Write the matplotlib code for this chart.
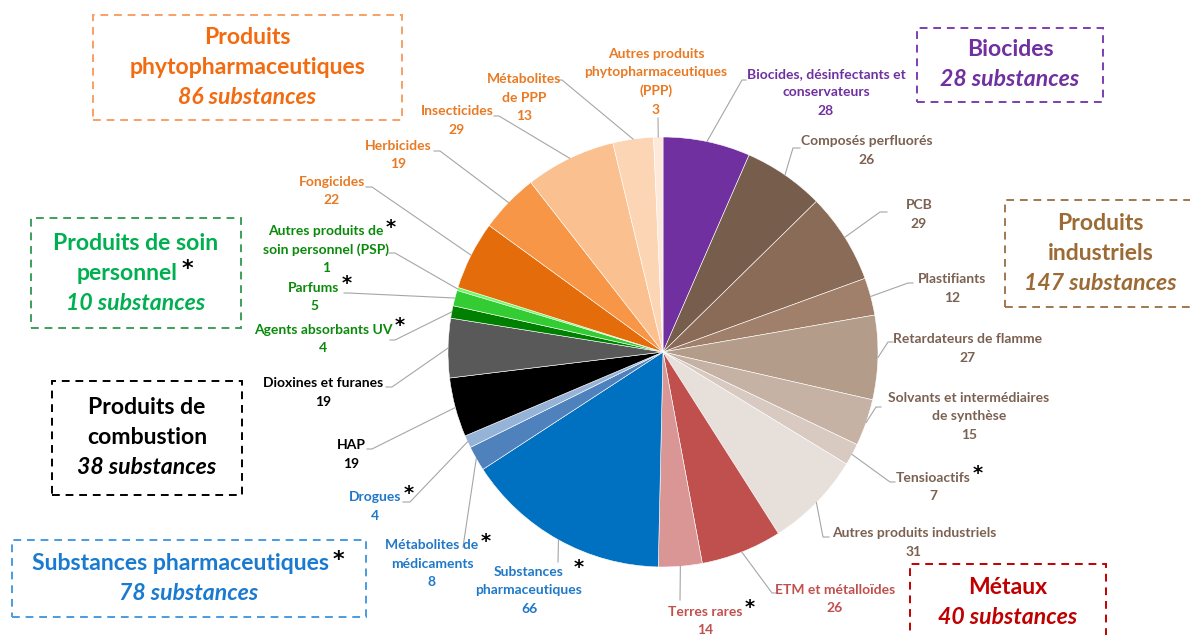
import matplotlib.pyplot as plt
import numpy as np

# figure in pixel units
W, H = 1190, 635
plt.rcParams['font.family'] = ['Lato', 'DejaVu Sans']

slice_names = ["Biocides, désinfectants et\nconservateurs", "Composés perfluorés", "PCB", "Plastifiants",
               "Retardateurs de flamme", "Solvants et intermédiaires\nde synthèse", "Tensioactifs",
               "Autres produits industriels", "ETM et métalloïdes", "Terres rares",
               "Substances\npharmaceutiques", "Métabolites de\nmédicaments", "Drogues", "HAP",
               "Dioxines et furanes", "Agents absorbants UV", "Parfums",
               "Autres produits de\nsoin personnel (PSP)", "Fongicides", "Herbicides", "Insecticides",
               "Métabolites\nde PPP", "Autres produits\nphytopharmaceutiques\n(PPP)"]
slice_values = [28, 26, 29, 12, 27, 15, 7, 31, 26, 14, 66, 8, 4, 19, 19, 4, 5, 1, 22, 19, 29, 13, 3]
slice_colors = ["#7030A0", "#765D4C", "#8A6B58", "#A0806B", "#B49C8A", "#C5B2A4", "#D8CAC0", "#E6DFDA",
                "#C0504D", "#D99694", "#0070C0", "#4F81BD", "#95B3D7", "#000000", "#595959",
                "#008000", "#33CC33", "#66FF66", "#E46C0A", "#F79646", "#FAC090", "#FCD5B5", "#FDE9D9"]
slice_group = ["bio", "ind", "ind", "ind", "ind", "ind", "ind", "ind", "met", "met",
               "pha", "pha", "pha", "com", "com", "psp", "psp", "psp", "ppp", "ppp", "ppp", "ppp", "ppp"]
starred = ["Tensioactifs", "Terres rares", "Substances\npharmaceutiques", "Métabolites de\nmédicaments",
           "Drogues", "Agents absorbants UV", "Parfums", "Autres produits de\nsoin personnel (PSP)"]

group_label_color = {"bio": "#7030A0", "ind": "#7B6151", "met": "#C0504D", "pha": "#1F78C8",
                     "com": "#000000", "psp": "#0A8A0A", "ppp": "#E97A23"}

# group boxes: title lines, total
box_titles = [["Produits", "phytopharmaceutiques"], ["Biocides"], ["Produits", "industriels"],
              ["Produits de soin", "personnel"], ["Produits de", "combustion"],
              ["Substances pharmaceutiques"], ["Métaux"]]
box_totals = [86, 28, 147, 10, 38, 78, 40]
box_colors = ["#F26B10", "#7030A0", "#9C6B35", "#00B050", "#000000", "#1A7AD0", "#C00000"]
box_edge = ["#F7A064", "#7A3FB0", "#A07850", "#3C9F5A", "#000000", "#4A9BE0", "#C00000"]
box_star = [False, False, False, True, False, True, False]
# layout (pixels from top-left): x0, y0, x1, y1
box_rect = [(93, 15, 402, 120), (917, 28, 1103, 102), (1005, 200, 1196, 307), (31, 218, 241, 328),
            (52, 381, 242, 495), (12, 540, 366, 617), (910, 564, 1106, 640)]

# label layout: x centre, y of first line, elbow point, end of leader
label_pos = [(826, 74), (867, 141), (919, 205), (952, 279), (968, 339), (969, 398), (933, 478),
             (914, 533), (835, 590), (705, 612), (529, 572), (432, 545), (375, 497), (351, 445),
             (323, 383), (323, 330), (314, 288), (326, 231), (332, 182), (398, 146), (457, 111),
             (524, 79), (656, 54)]
leader = [((742, 80), (746, 80)), ((793, 148), (800, 148)), ((880, 212), (887, 212)),
          ((908, 283), (913, 283)), ((888, 342), (893, 342)), ((876, 407), (881, 407)),
          ((890, 482), (895, 482)), ((823, 537), (829, 537)), ((772, 593), (777, 593)),
          ((680, 600), (680, 600)), ((558, 562), (558, 562)), ((463, 547), (463, 547)),
          ((410, 502), (403, 502)), ((372, 449), (367, 449)), ((392, 387), (386, 387)),
          ((395, 340), (390, 340)), ((348, 293), (344, 293)), ((395, 253), (389, 253)),
          ((372, 187), (366, 187)), ((440, 151), (434, 151)), ((499, 116), (494, 116)),
          ((562, 80), (558, 80)), ((658, 118), (658, 118))]

cx, cy, R = 663, 352, 215
lh = 18.5


def py(y):
    return H - y


fig = plt.figure(figsize=(W / 100, H / 100), dpi=100)
ax = fig.add_axes([0, 0, 1, 1])
wedges, _ = ax.pie(slice_values, colors=slice_colors, startangle=90, counterclock=False,
                   center=(cx, py(cy)), radius=R, wedgeprops=dict(linewidth=0.4, edgecolor="white"))
ax.set_xlim(0, W)
ax.set_ylim(0, H)
ax.set_aspect('equal')
ax.axis('off')

renderer = fig.canvas.get_renderer()


def add_star(txt, x_pad=2, dy=-4, size=14):
    bb = txt.get_window_extent(renderer=renderer)
    ax.text(bb.x1 + x_pad, (bb.y0 + bb.y1) / 2 - dy, "*", color="black", fontsize=size,
            fontweight="bold", ha="left", va="center", family="DejaVu Sans")


for i, w in enumerate(wedges):
    col = group_label_color[slice_group[i]]
    x, y0 = label_pos[i]
    lines = slice_names[i].split("\n") + [str(slice_values[i])]
    first = None
    for k, ln in enumerate(lines):
        t = ax.text(x, py(y0 + k * lh), ln, color=col, fontsize=10, fontweight="bold",
                    ha="center", va="center")
        if k == 0:
            first = t
    if slice_names[i] in starred:
        pad = 10 if slice_names[i].startswith("Substances") else 2
        add_star(first, x_pad=pad, size=14)
    # leader line from wedge edge
    ang = np.deg2rad((w.theta1 + w.theta2) / 2)
    ex, ey = cx + R * np.cos(ang), py(cy) + R * np.sin(ang)
    (bx, by), (fx, fy) = leader[i]
    ax.plot([ex, bx, fx], [ey, py(by), py(fy)], color="#A6A6A6", linewidth=0.8)

for j in range(len(box_titles)):
    x0, y0, x1, y1 = box_rect[j]
    ax.add_patch(plt.Rectangle((x0, py(y1)), x1 - x0, y1 - y0, fill=False, edgecolor=box_edge[j],
                               linestyle=(0, (4, 3)), linewidth=1.4, clip_on=False))
    xc = (x0 + x1) / 2
    n = len(box_titles[j]) + 1
    top = (y0 + y1) / 2 - (n - 1) * 30 / 2
    last = None
    for k, ln in enumerate(box_titles[j]):
        # the line carrying the star is centred together with it
        shift = -9 if (box_star[j] and k == len(box_titles[j]) - 1) else 0
        last = ax.text(xc + shift, py(top + k * 30), ln, color=box_colors[j], fontsize=16.6,
                       fontweight="bold", ha="center", va="center")
    if box_star[j]:
        add_star(last, x_pad=4, size=16)
    ax.text(xc, py(top + (n - 1) * 30), f"{box_totals[j]} substances", color=box_colors[j], fontsize=16.6,
            fontweight="bold", fontstyle="italic", ha="center", va="center")

fig.savefig("out.png", dpi=100)
